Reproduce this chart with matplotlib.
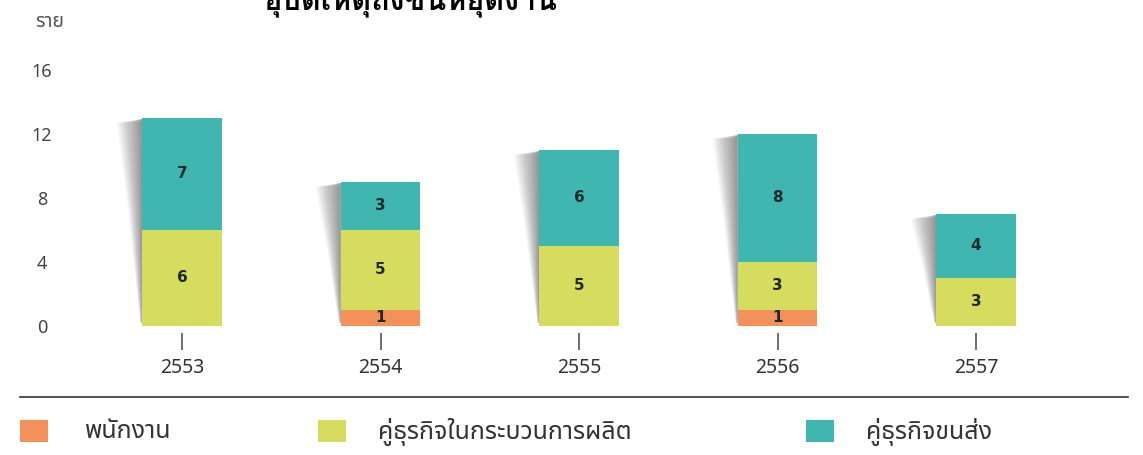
import matplotlib
matplotlib.use("Agg")
import matplotlib.pyplot as plt
from matplotlib import font_manager as fm
from matplotlib.ft2font import FT2Font
from matplotlib.patches import Rectangle, Polygon
from matplotlib.lines import Line2D

# ---- data ----
years = ["2553", "2554", "2555", "2556", "2557"]
employees = [0, 1, 0, 1, 0]            # พนักงาน
production_partners = [6, 5, 5, 3, 3]  # คู่ธุรกิจในกระบวนการผลิต
transport_partners = [7, 3, 6, 8, 4]   # คู่ธุรกิจขนส่ง
series_names = ["พนักงาน", "คู่ธุรกิจในกระบวนการผลิต", "คู่ธุรกิจขนส่ง"]
y_ticks = [0, 4, 8, 12, 16]
y_unit = "ราย"
title = "อุบัติเหตุถึงขั้นหยุดงาน"

colors = ["#F4905A", "#D5DC5E", "#3FB6B0"]

# ---- find fonts with Thai glyphs ----
thai = []
bold_thai = []
for f in fm.fontManager.ttflist:
    try:
        cm = FT2Font(f.fname).get_charmap()
        if 0x0E01 in cm and 0x0E38 in cm and 0x0E31 in cm:
            if f.name not in thai:
                thai.append(f.name)
            w = f.weight if isinstance(f.weight, int) else (700 if "bold" in str(f.weight).lower() else 400)
            if w >= 700 and f.name not in bold_thai:
                bold_thai.append(f.name)
    except Exception:
        pass


def pick(prefs, pool):
    for p in prefs:
        if p in pool:
            return p
    return pool[0] if pool else (thai[0] if thai else "DejaVu Sans")


sans_thai = pick(["Noto Sans Thai", "Noto Sans Thai UI", "Sawasdee", "Garuda", "Loma",
                  "Umpush", "Waree"], thai)
title_font = pick(["Noto Serif Thai", "Kinnari", "Norasi", "Laksaman", "Noto Sans Thai",
                   "Noto Sans Thai Looped", "Loma", "Garuda"], bold_thai)
plt.rcParams["font.family"] = [sans_thai, "DejaVu Sans"]

W, H = 1143, 455
fig = plt.figure(figsize=(W / 100, H / 100), dpi=100)

ax_l, ax_r, ax_top, ax_bot = 60, 1130, 60, 333
ax = fig.add_axes([ax_l / W, (H - ax_bot) / H, (ax_r - ax_l) / W, (ax_bot - ax_top) / H])
x0, dx = 182, 198.5
ax.set_xlim(-(x0 - ax_l) / dx, (ax_r - x0) / dx)
ax.set_ylim(-7 / 16, (326 - ax_top) / 16)

xs = list(range(len(years)))
bw = 0.4

# soft shadows left of bars
for i in xs:
    top = employees[i] + production_partners[i] + transport_partners[i]
    xl = i - bw / 2
    n = 24
    for k in range(n):
        s = 0.13 * (k + 1) / n
        poly = Polygon([(xl, top - 0.05), (xl - s, top - 0.3), (xl - s * 0.55, top * 0.55),
                        (xl - s * 0.08, 0.2), (xl, 0.2)], closed=True,
                       facecolor="#000000", alpha=0.02, edgecolor="none", zorder=1)
        ax.add_patch(poly)

bottom = [0] * len(xs)
for vals, c in zip([employees, production_partners, transport_partners], colors):
    ax.bar(xs, vals, bw, bottom=bottom, color=c, zorder=2, linewidth=0)
    for i, v in enumerate(vals):
        if v > 0:
            ax.text(i, bottom[i] + v / 2, str(v), ha="center", va="center",
                    fontsize=11, fontweight="bold", color="#1E2A2A", zorder=3,
                    family="DejaVu Sans")
    bottom = [b + v for b, v in zip(bottom, vals)]

for sp in ax.spines.values():
    sp.set_visible(False)
ax.set_yticks(y_ticks)
ax.set_yticklabels([str(t) for t in y_ticks])
ax.tick_params(axis="y", length=0, pad=13, labelsize=13, labelcolor="#444444")
for lab in ax.get_yticklabels():
    lab.set_horizontalalignment("center")
ax.set_xticks(xs)
ax.set_xticklabels(years)
ax.tick_params(axis="x", length=12, width=1.2, color="#555555", pad=6,
               labelsize=14, labelcolor="#333333")

fig.text(35 / W, 1 - 22 / H, y_unit, ha="left", va="center", fontsize=14, color="#555555")
fig.text(410 / W, 1 - 10 / H, title, ha="center", va="baseline", fontsize=22,
         fontweight="bold", color="#000000", family=[title_font, "DejaVu Sans"])

fig.add_artist(Line2D([20 / W, 1128 / W], [1 - 397 / H, 1 - 397 / H],
                      color="#333333", lw=1.2))
leg_x = [(20, 85), (318, 378), (806, 866)]
for (sx, tx), name, c in zip(leg_x, series_names, colors):
    fig.add_artist(Rectangle((sx / W, 1 - 442 / H), 28 / W, 22 / H, facecolor=c,
                             edgecolor="none", transform=fig.transFigure))
    fig.text(tx / W, 1 - 432 / H, name, ha="left", va="center", fontsize=18,
             color="#333333")

fig.savefig("out.png", dpi=100)
